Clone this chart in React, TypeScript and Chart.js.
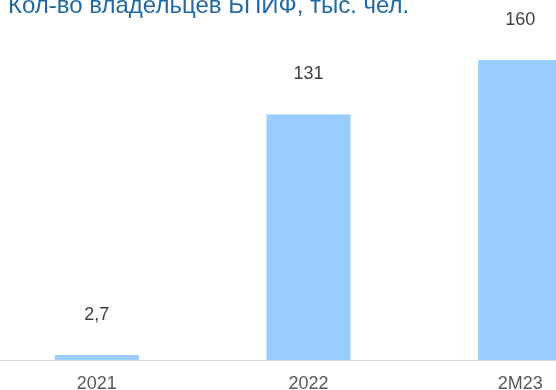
import React, { useEffect, useRef } from "react";
import { Chart, registerables } from "chart.js";

Chart.register(...registerables);

const title = "Кол-во владельцев БПИФ, тыс. чел.";
const categories = ["2021", "2022", "2M23"];
const values = [2.7, 131, 160];
const valueLabels = ["2,7", "131", "160"];

const FONT = '"Liberation Sans", Arial, sans-serif';
const CANVAS_LEFT = -9;
const CANVAS_W = 635;
const CANVAS_H = 390;

export default function App() {
  const ref = useRef<HTMLCanvasElement | null>(null);

  useEffect(() => {
    if (!ref.current) return;
    const labelPlugin = {
      id: "valueLabels",
      afterDatasetsDraw(chart: any) {
        const ctx = chart.ctx;
        const meta = chart.getDatasetMeta(0);
        ctx.save();
        ctx.font = `18px ${FONT}`;
        ctx.fillStyle = "#404040";
        ctx.textAlign = "center";
        ctx.textBaseline = "alphabetic";
        meta.data.forEach((bar: any, i: number) => {
          ctx.fillText(valueLabels[i], bar.x, bar.y - 35);
        });
        ctx.restore();
      },
    };
    const titlePlugin = {
      id: "titleText",
      afterDraw(chart: any) {
        const ctx = chart.ctx;
        ctx.save();
        ctx.font = `24px ${FONT}`;
        ctx.fillStyle = "#2369A4";
        ctx.textAlign = "left";
        ctx.textBaseline = "alphabetic";
        ctx.fillText(title, 8 - CANVAS_LEFT, 12.5);
        ctx.restore();
      },
    };
    const chart = new Chart(ref.current, {
      type: "bar",
      data: {
        labels: categories,
        datasets: [
          {
            data: values,
            backgroundColor: "#99CCFF",
            borderWidth: 0,
            categoryPercentage: 1,
            barPercentage: 0.397,
          },
        ],
      },
      options: {
        responsive: false,
        animation: false,
        maintainAspectRatio: false,
        layout: { padding: 0 },
        plugins: {
          legend: { display: false },
          title: { display: false },
          tooltip: { enabled: false },
        },
        scales: {
          x: {
            offset: true,
            grid: { display: false, drawTicks: false },
            border: { display: true, color: "#D9D9D9", width: 1 },
            ticks: {
              padding: 13,
              color: "#595959",
              font: { family: FONT, size: 18 },
              maxRotation: 0,
              autoSkip: false,
            },
            afterFit(scale: any) {
              scale.height = 30;
            },
          },
          y: {
            display: false,
            min: 0,
            max: 192,
          },
        },
      },
      plugins: [labelPlugin, titlePlugin],
    });
    return () => chart.destroy();
  }, []);

  return (
    <div
      style={{
        position: "fixed",
        left: 0,
        top: 0,
        width: 556,
        height: 390,
        overflow: "hidden",
        background: "#fff",
      }}
    >
      <canvas
        ref={ref}
        width={CANVAS_W}
        height={CANVAS_H}
        style={{
          position: "absolute",
          left: CANVAS_LEFT,
          top: 0,
          width: CANVAS_W,
          height: CANVAS_H,
        }}
      />
    </div>
  );
}
